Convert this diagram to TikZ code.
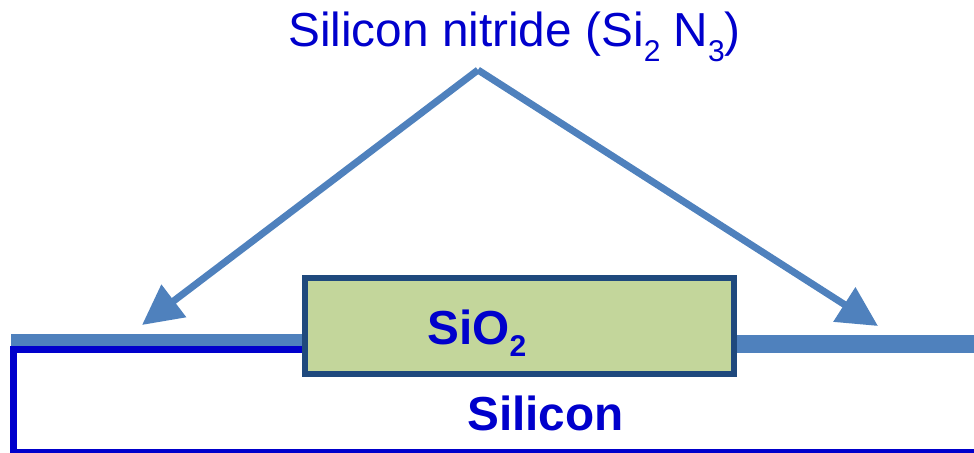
\documentclass[tikz,border=0pt]{standalone}
\usepackage{fontspec}
\setmainfont{Liberation Sans}
\usetikzlibrary{arrows.meta}
\definecolor{nitride}{HTML}{4F81BD}
\definecolor{sicol}{HTML}{0000CC}
\definecolor{oxfill}{HTML}{C3D69B}
\definecolor{oxdraw}{HTML}{1F497D}
\newcommand{\mysubscr}[2]{\raisebox{#1}{\fontsize{22.5}{22.5}\selectfont #2}}
\begin{document}
\begin{tikzpicture}[x=0.75pt,y=-0.75pt,
  labeltext/.style={text=sicol, inner sep=0pt, anchor=base west, font=\fontsize{35.8}{40}\selectfont},
  boldtext/.style={labeltext, font=\fontsize{35.8}{40}\selectfont\bfseries},
  substrate/.style={draw=sicol, line width=5.25pt},
  nitrideline/.style={draw=nitride},
  oxidebox/.style={draw=oxdraw, fill=oxfill, line width=4.5pt, inner sep=0pt, minimum width=429*0.75pt, minimum height=96*0.75pt},
  arrowline/.style={draw=nitride, line width=5.25pt, -{Triangle[length=30pt,width=29.5pt]}}]
\useasboundingbox (0,0) rectangle (974,453);
% silicon substrate
\coordinate (s1) at (990,349.5);
\coordinate (s2) at (13.75,349.5);
\coordinate (s3) at (13.75,452.5);
\coordinate (s4) at (990,452.5);
\draw[substrate] (s1) -- (s2) -- (s3) -- (s4);
% nitride layers
\coordinate (nl1) at (11,340);
\coordinate (nl2) at (306,340);
\coordinate (nr1) at (733,344);
\coordinate (nr2) at (990,344);
\draw[nitrideline, line width=9pt] (nl1) -- (nl2);
\draw[nitrideline, line width=13.5pt] (nr1) -- (nr2);
% oxide
\node[oxidebox] (oxide) at (519.5,326) {};
\node[boldtext] (oxlabel) at (427,344) {SiO\mysubscr{-9pt}{\bfseries 2}};
\node[boldtext] (silabel) at (467,430) {Silicon};
% arrows
\coordinate (apex) at (478,70);
\coordinate (ltip) at (142,325);
\coordinate (rtip) at (878,326);
\draw[arrowline] (apex) -- (ltip);
\draw[arrowline] (apex) -- (rtip);
\node[labeltext] (title) at (288,47) {Silicon nitride (Si\mysubscr{-11.25pt}{2} N\mysubscr{-11.25pt}{3})};
\end{tikzpicture}
\end{document}
